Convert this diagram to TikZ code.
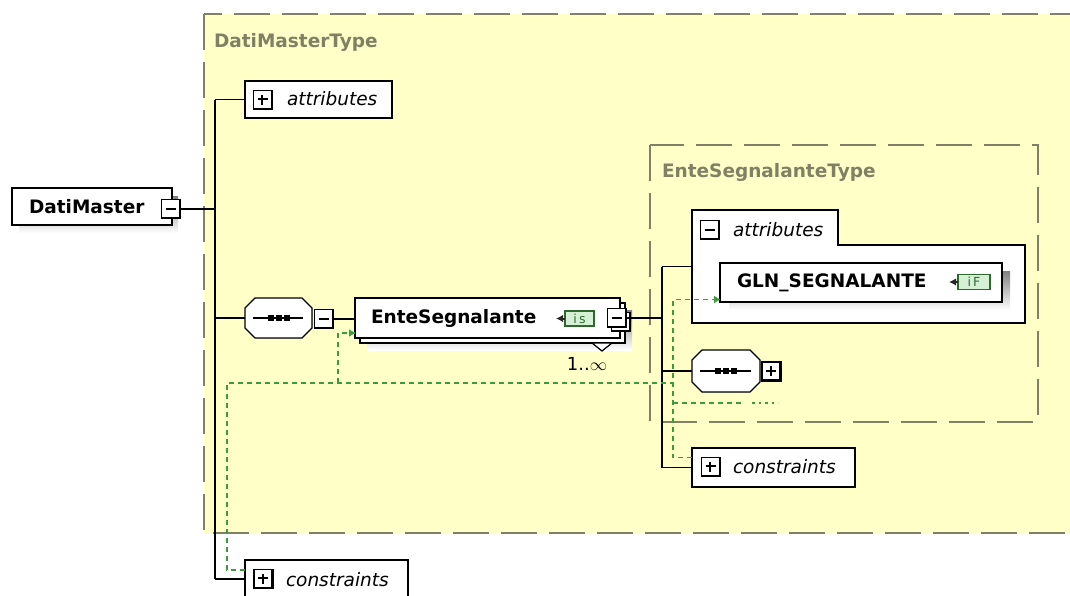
\documentclass[tikz,border=0pt]{standalone}
\usepackage{fontspec}
\setmainfont{DejaVu Sans}
\usetikzlibrary{arrows.meta}

\definecolor{typefill}{RGB}{255,255,200}
\definecolor{typeedge}{RGB}{128,128,100}
\definecolor{shade}{RGB}{185,185,185}
\definecolor{idgreen}{RGB}{60,155,60}
\definecolor{facetfill}{RGB}{214,240,214}
\definecolor{facetedge}{RGB}{45,105,45}

% octagonal compositor outline around an (invisible) rectangle node
\newcommand\octopath[1]{([xshift=10pt]#1.north west) -- ([xshift=-10pt]#1.north east)
  -- ([yshift=-10pt]#1.north east) -- ([yshift=10pt]#1.south east)
  -- ([xshift=-10pt]#1.south east) -- ([xshift=10pt]#1.south west)
  -- ([yshift=10pt]#1.south west) -- ([yshift=-10pt]#1.north west) -- cycle}

% the sequence symbol drawn inside a compositor
\newcommand\seqmark[1]{%
  \draw[conn] ([xshift=8pt]#1.west) -- ([xshift=-9pt]#1.east);
  \foreach \d in {-8,0,8}
    \fill ([xshift=\d pt]#1.center) ++(-3,-3) rectangle ++(6,6);}

\begin{document}
\begin{tikzpicture}[x=1pt,y=-1pt,
  every node/.style={inner sep=0pt, outer sep=0pt},
  conn/.style={line width=1.2pt, draw=black},
  typebox/.style={draw=typeedge, fill=typefill, line width=1.8pt, dash pattern=on 36pt off 12pt},
  typelabel/.style={text=typeedge, font=\bfseries\fontsize{18.5}{20}\selectfont, anchor=west},
  box/.style={draw=black, fill=white, line width=1.2pt, anchor=north west, rectangle},
  anchorbox/.style={anchor=north west, rectangle},
  ename/.style={font=\bfseries\fontsize{18.5}{20}\selectfont, anchor=west},
  gname/.style={font=\itshape\fontsize{18.5}{20}\selectfont, anchor=west},
  octo/.style={draw=black, fill=white, line width=1.2pt},
  icon/.style={draw=black, fill=white, line width=1.4pt, rectangle, minimum width=19pt, minimum height=19pt},
  minusicon/.style={icon, path picture={
      \draw[line width=4pt] (path picture bounding box.south west) -- (path picture bounding box.south east) -- (path picture bounding box.north east);
      \draw[line width=1.7pt] ([xshift=4pt]path picture bounding box.west) -- ([xshift=-5pt]path picture bounding box.east);}},
  plusicon/.style={icon, path picture={
      \draw[line width=4pt] (path picture bounding box.south west) -- (path picture bounding box.south east) -- (path picture bounding box.north east);
      \draw[line width=1.7pt] ([xshift=4pt,yshift=0.8pt]path picture bounding box.west) -- ([xshift=-5pt,yshift=0.8pt]path picture bounding box.east);
      \draw[line width=1.7pt] ([xshift=-0.8pt,yshift=-4pt]path picture bounding box.north) -- ([xshift=-0.8pt,yshift=5pt]path picture bounding box.south);}},
  facet/.style={draw=facetedge, fill=facetfill, line width=1.1pt, rectangle, minimum height=15pt,
      text=facetedge, font=\fontsize{12.5}{13}\selectfont},
  facetarrow/.style={-{Latex[length=7pt,width=7.5pt]}, line width=2pt, draw=black!85},
  idc/.style={draw=idgreen, line width=1.3pt, dash pattern=on 5pt off 4pt},
  idtip/.style={-{Triangle[length=6pt,width=7pt]}, idgreen},
]
\useasboundingbox (0,0) rectangle (1070,595);
\clip (0,0) rectangle (1070,595);

% ---- complex types -------------------------------------------------
\draw[typebox] (204,14) rectangle (1110,533);
\node[typelabel] (dmtype) at (214,42) {DatiMasterType};
\draw[typebox] (650,145) rectangle (1038,422);
\node[typelabel] (esttype) at (662,172) {EnteSegnalanteType};

\coordinate (spine) at (215,0);
\coordinate (spinetwo) at (662,0);

% ---- root element --------------------------------------------------
\fill[shade] (19,196) rectangle (178,233);
\node[box, minimum width=160pt, minimum height=37pt] (dm) at (12,188) {};
\node[ename] (dmtext) at (29,207) {DatiMaster};
\node[minusicon] (dmi) at (171,209) {};

% ---- attributes of DatiMasterType ----------------------------------
\node[box, minimum width=147pt, minimum height=37pt] (attra) at (245,81) {};
\node[plusicon] (attrai) at (263,100) {};
\node[gname] (attratext) at (287,99) {attributes};

% ---- sequence compositor -------------------------------------------
\node[anchorbox, minimum width=67pt, minimum height=40pt] (seqa) at (245,298) {};
\fill[shade, shift={(7,7)}] \octopath{seqa};
\draw[octo] \octopath{seqa};
\seqmark{seqa}
\node[minusicon] (seqai) at (324,319) {};

% ---- EnteSegnalante (repeated element) -----------------------------
\fill[shade] (367,310) rectangle (632,350);
\node[box, minimum width=265pt, minimum height=40pt] (enteback) at (360,303) {};
\node[box, minimum width=265pt, minimum height=40pt] (ente) at (355,298) {};
\node[ename] (entetext) at (371,318) {EnteSegnalante};
\node[facet, minimum width=29pt] (entef) at (579.5,318.5) {i\,s};
\draw[facetarrow] (entef.west) -- ++(-9,0);
\node[minusicon] (enteiback) at (621,322) {};
\node[minusicon] (entei) at (617,318) {};
\draw[conn, fill=white] (592,343) -- (612,343) -- (602,351) -- cycle;
\node[font=\fontsize{18}{20}\selectfont] (occurs) at (587,364) {1..$\infty$};

% ---- EnteSegnalanteType content ------------------------------------
\node[anchorbox, minimum width=333pt, minimum height=113pt] (attrb) at (692,210) {};
\draw[conn, fill=white] (attrb.north west) -- ++(146,0) -- ++(0,35) -- (attrb.north east |- 0,245)
  -- (attrb.south east) -- (attrb.south west) -- cycle;
\node[minusicon] (attrbi) at (710,230) {};
\node[gname] (attrbtext) at (733,230) {attributes};

\fill[shade] (729,271) rectangle (1010,310);
\node[box, minimum width=282pt, minimum height=39pt] (gln) at (720,263) {};
\node[ename] (glntext) at (737,283) {GLN\_SEGNALANTE};
\node[facet, minimum width=32pt] (glnf) at (974,282) {i\,F};
\draw[facetarrow] (glnf.west) -- ++(-9,0);

\node[anchorbox, minimum width=68pt, minimum height=42pt] (seqb) at (692,350) {};
\fill[shade, shift={(7,7)}] \octopath{seqb};
\draw[octo] \octopath{seqb};
\seqmark{seqb}
\node[plusicon] (seqbi) at (771.5,371.5) {};

\node[box, minimum width=163pt, minimum height=39pt] (csta) at (692,448) {};
\node[plusicon] (cstai) at (711,467) {};
\node[gname] (cstatext) at (733,467) {constraints};

% ---- constraints of DatiMaster -------------------------------------
\node[box, minimum width=163pt, minimum height=38pt] (cstb) at (245,560) {};
\node[plusicon] (cstbi) at (263.5,579) {};
\node[gname] (cstbtext) at (286,580) {constraints};

% ---- tree connectors -----------------------------------------------
\draw[conn] (dmi.east) -- (dmi.east -| spine);
\draw[conn] (attra.west -| spine) -- (cstb.west -| spine);
\draw[conn] (attra.west -| spine) -- (attra.west);
\draw[conn] (seqa.west -| spine) -- (seqa.west);
\draw[conn] (cstb.west -| spine) -- (cstb.west);
\draw[conn] (seqai.east) -- (ente.west |- seqai);
\draw[conn] (entei.east) -- (entei.east -| spinetwo);
\draw[conn] (attrb.west -| spinetwo) -- (csta.west -| spinetwo);
\draw[conn] (attrb.west -| spinetwo) -- (attrb.west);
\draw[conn] (seqb.west -| spinetwo) -- (seqb.west);
\draw[conn] (csta.west -| spinetwo) -- (csta.west);

% ---- identity constraint selectors and fields ----------------------
\draw[idc] ([yshift=9pt]cstb.west) -- ++(-18,0) |- (673,383);
\draw[idc] (338,383) |- ([yshift=-15pt]ente.west);
\draw[idtip] ([xshift=-6pt,yshift=-15pt]ente.west) -- ([yshift=-15pt]ente.west);
\draw[idc] ([yshift=10pt]csta.west) -- ++(-19,0) |- ([yshift=-17pt]gln.west);
\draw[idtip] ([xshift=-6pt,yshift=-17pt]gln.west) -- ([yshift=-17pt]gln.west);
\draw[idc] (673,403) -- (742,403);
\draw[idgreen, line width=2pt, dash pattern=on 2.5pt off 4pt] (752,403) -- (778,403);
\end{tikzpicture}
\end{document}
